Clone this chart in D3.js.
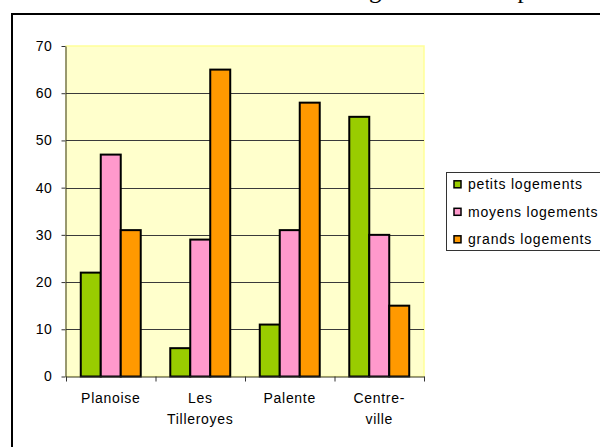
<!DOCTYPE html>
<html>
<head>
    <meta charset="UTF-8">
    <title>Logements par quartier</title>
    <style>
        body{ margin:0; background:#fff; }
        text{ font-family:"Liberation Sans", Arial, sans-serif; }
    </style>
</head>
<body>
    <script src="https://d3js.org/d3.v7.min.js" charset="utf-8"></script>
    <script type="text/javascript">
        // donnees
        var categories = ["Planoise", "Les Tilleroyes", "Palente", "Centre-ville"];
        var catLines = [["Planoise"], ["Les", "Tilleroyes"], ["Palente"], ["Centre-", "ville"]];
        var series = ["petits logements", "moyens logements", "grands logements"];
        var petits = [22, 6, 11, 55];
        var moyens = [47, 29, 31, 30];
        var grands = [31, 65, 58, 15];
        var yTicks = [0, 10, 20, 30, 40, 50, 60, 70];
        var colors = ["#99CC00", "#FF99CC", "#FF9900"];

        var width = 600;
        var height = 447;
        var svg = d3.select("body").append("svg")
            .attr("width", width)
            .attr("height", height);

        // titre (coupe en haut de l'image)
        var title = svg.append("text")
            .attr("x", 0)
            .attr("y", -2.4)
            .attr("font-size", 25)
            .style("font-family", "'Liberation Serif', 'Times New Roman', serif")
            .text("Les logements selon pièces et quartiers");
        var gi = title.text().indexOf("g");
        var gx = title.node().getStartPositionOfChar(gi).x;
        title.attr("x", 369 - gx);

        // cadre
        svg.append("rect")
            .attr("x", 12)
            .attr("y", 14)
            .attr("width", 700)
            .attr("height", 500)
            .attr("fill", "none")
            .attr("stroke", "black")
            .attr("stroke-width", 2);

        var pLeft = 66, pRight = 424, pTop = 46, pBottom = 376.5;

        var y = d3.scaleLinear().domain([0, 70]).range([pBottom, pTop]);
        var x0 = d3.scaleBand().domain(categories).range([pLeft, pRight])
            .paddingInner(0.33).paddingOuter(0.165);
        var x1 = d3.scaleBand().domain(series).range([0, x0.bandwidth()]);
        var xl = d3.scaleLinear().domain([0, categories.length]).range([pLeft, pRight]);

        // zone de tracage
        svg.append("rect")
            .attr("x", pLeft)
            .attr("y", pTop)
            .attr("width", pRight - pLeft)
            .attr("height", pBottom - pTop)
            .attr("fill", "#FFFFCC")
            .attr("stroke", "#FFFF99")
            .attr("stroke-width", 1.5);

        // grille
        svg.selectAll("line.grid")
            .data(yTicks.slice(1, yTicks.length - 1))
            .enter().append("line")
            .attr("class", "grid")
            .attr("x1", pLeft)
            .attr("x2", pRight)
            .attr("y1", function(d){ return Math.round(y(d)) + 0.5; })
            .attr("y2", function(d){ return Math.round(y(d)) + 0.5; })
            .attr("stroke", "#3a3a3a")
            .attr("stroke-width", 1);

        // barres
        var values = [petits, moyens, grands];
        series.forEach(function(s, si){
            svg.selectAll("rect.s" + si)
                .data(values[si])
                .enter().append("rect")
                .attr("class", "s" + si)
                .attr("x", function(d, i){ return x0(categories[i]) + x1(s); })
                .attr("y", function(d){ return y(d); })
                .attr("width", x1.bandwidth())
                .attr("height", function(d){ return y(0) - y(d); })
                .attr("fill", colors[si])
                .attr("stroke", "black")
                .attr("stroke-width", 2);
        });

        // axes
        var yAxis = svg.append("g")
            .attr("transform", "translate(" + (pLeft - 0.5) + ",0)")
            .call(d3.axisLeft(y).tickValues(yTicks).tickSize(4).tickPadding(9).tickSizeOuter(0));
        var xAxis = svg.append("g")
            .attr("transform", "translate(0," + pBottom + ")")
            .call(d3.axisBottom(xl).tickValues([0, 1, 2, 3, 4]).tickSize(5).tickFormat("").tickSizeOuter(0));
        [yAxis, xAxis].forEach(function(a){
            a.select(".domain").attr("stroke", "#333");
            a.selectAll(".tick line").attr("stroke", "#333");
        });
        yAxis.selectAll(".tick text")
            .attr("font-size", 14)
            .attr("letter-spacing", 0.6)
            .attr("fill", "black")
            .style("font-family", "'Liberation Sans', Arial, sans-serif");

        // noms des quartiers
        catLines.forEach(function(lines, i){
            var t = svg.append("text")
                .attr("text-anchor", "middle")
                .attr("font-size", 14)
                .attr("letter-spacing", 0.7)
                .attr("fill", "black");
            lines.forEach(function(l, li){
                t.append("tspan")
                    .attr("x", x0(categories[i]) + x0.bandwidth() / 2)
                    .attr("y", 403 + li * 21)
                    .text(l);
            });
        });

        // legende
        svg.append("rect")
            .attr("x", 446.5)
            .attr("y", 172.5)
            .attr("width", 200)
            .attr("height", 78)
            .attr("fill", "white")
            .attr("stroke", "#333")
            .attr("stroke-width", 1);
        series.forEach(function(s, si){
            var cy = 184.3 + si * 27.5;
            svg.append("rect")
                .attr("x", 454)
                .attr("y", cy - 3.5)
                .attr("width", 7)
                .attr("height", 7)
                .attr("fill", colors[si])
                .attr("stroke", "black")
                .attr("stroke-width", 1.5);
            svg.append("text")
                .attr("x", 468)
                .attr("y", cy + 5)
                .attr("font-size", 14)
                .attr("letter-spacing", 0.8)
                .attr("fill", "black")
                .text(s);
        });
    </script>
</body>
</html>
